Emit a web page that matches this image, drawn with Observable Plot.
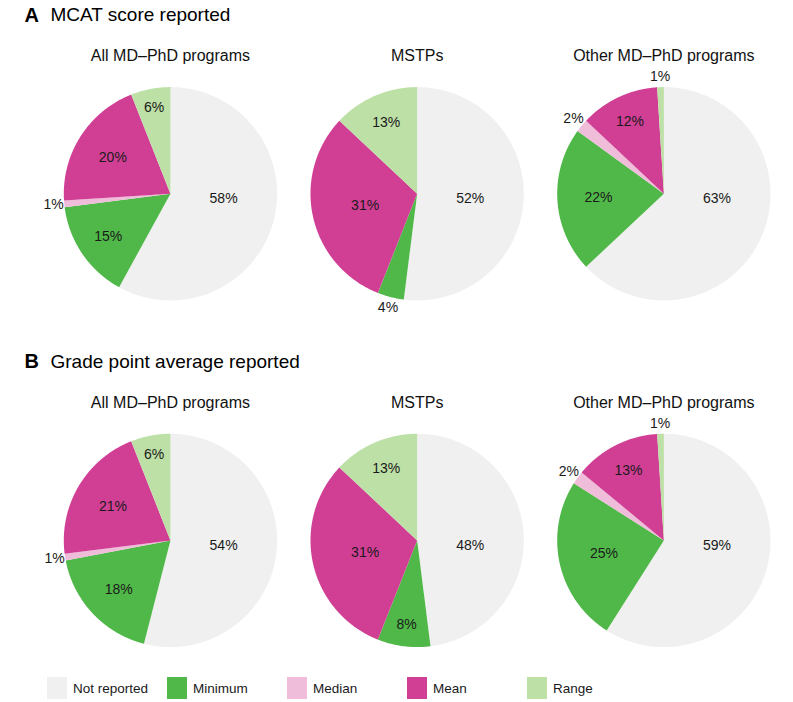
<!DOCTYPE html>
<html><head><meta charset="utf-8">
<script src="https://cdn.jsdelivr.net/npm/d3@7"></script>
<script src="https://cdn.jsdelivr.net/npm/@observablehq/plot@0.6"></script>
<style>
body{margin:0;background:#fff;font-family:"Liberation Sans",Arial,Helvetica,sans-serif;}
#chart svg{display:block;overflow:visible;}
#legend{position:relative;height:37px;width:793px;}
.item{position:absolute;top:12px;height:22px;display:flex;align-items:center;font-size:13.5px;color:#1a1a1a;}
.sw{width:20px;height:22px;margin-right:6px;}
</style></head><body>
<div id="chart"></div>
<div id="legend"></div>
<script>
// ---- data ----
const categories = ["Not reported", "Minimum", "Median", "Mean", "Range"];
const colors = ["#eff0ef", "#50b848", "#efbcd9", "#d13f95", "#bde0a6"];
const panels = ["A", "B"];
const panelTitles = ["MCAT score reported", "Grade point average reported"];
const programs = ["All MD–PhD programs", "MSTPs", "Other MD–PhD programs"];
const mcatAll = [58, 15, 1, 20, 6];
const mcatMSTP = [52, 4, 0, 31, 13];
const mcatOther = [63, 22, 2, 12, 1];
const gpaAll = [54, 18, 1, 21, 6];
const gpaMSTP = [48, 8, 0, 31, 13];
const gpaOther = [59, 25, 2, 13, 1];

const series = {
  A: [mcatAll, mcatMSTP, mcatOther],
  B: [gpaAll, gpaMSTP, gpaOther]
};

// ---- build slice polygons and labels in unit-circle data space ----
const slices = [];
const labels = [];
const facets = [];
for (const panel of panels) {
  series[panel].forEach((vals, gi) => {
    const program = programs[gi];
    facets.push({panel, program});
    const total = d3.sum(vals);
    let cum = 0;
    vals.forEach((v, ci) => {
      if (v <= 0) return;
      const a0 = (cum / total) * 2 * Math.PI;
      cum += v;
      const a1 = (cum / total) * 2 * Math.PI;
      const key = panel + "|" + program + "|" + categories[ci];
      const n = Math.max(2, Math.ceil((a1 - a0) / (Math.PI / 360)));
      slices.push({panel, program, key, category: categories[ci], x: 0, y: 0});
      for (let k = 0; k <= n; ++k) {
        const a = a0 + (a1 - a0) * k / n;
        slices.push({panel, program, key, category: categories[ci], x: Math.sin(a), y: Math.cos(a)});
      }
      slices.push({panel, program, key, category: categories[ci], x: 0, y: 0});
      const f = v / total;
      let a = (a0 + a1) / 2, r;
      if (f < 0.05) r = 1.1;
      else if (f > 0.4) { a = 95 * Math.PI / 180; r = 0.5; }
      else r = Math.max(0.5, 0.9 - 1.3 * f);
      labels.push({panel, program, text: v + "%", x: r * Math.sin(a), y: r * Math.cos(a)});
    });
  });
}
const headers = panels.map((p, i) => ({panel: p, program: programs[0], title: panelTitles[i]}));

const plot = Plot.plot({
  width: 793,
  height: 665,
  marginTop: 86.6,
  marginLeft: 63.3,
  marginRight: 23,
  marginBottom: 18.4,
  facet: {margin: 0},
  x: {domain: [-1, 1], axis: null},
  y: {domain: [-1, 1], axis: null},
  fx: {domain: programs, axis: null, paddingInner: 0.1354, paddingOuter: 0, round: false},
  fy: {domain: panels, axis: null, paddingInner: 0.3847, paddingOuter: 0, round: false},
  color: {domain: categories, range: colors},
  style: {fontFamily: "'Liberation Sans', Arial, Helvetica, sans-serif", overflow: "visible", background: "#fff"},
  marks: [
    Plot.line(slices, {x: "x", y: "y", z: "key", fill: "category", stroke: "none", fx: "program", fy: "panel"}),
    Plot.text(labels, {x: "x", y: "y", text: "text", fx: "program", fy: "panel", fontSize: 14, fill: "#1a1a1a"}),
    Plot.text(facets, {fx: "program", fy: "panel", text: "program", frameAnchor: "top", lineAnchor: "middle", dy: -31, fontSize: 16, fill: "#111"}),
    Plot.text(headers, {fx: "program", fy: "panel", text: "panel", frameAnchor: "top-left", lineAnchor: "middle", textAnchor: "start", dx: -39.3, dy: -72, fontSize: 20, fontWeight: "bold", fill: "#000"}),
    Plot.text(headers, {fx: "program", fy: "panel", text: "title", frameAnchor: "top-left", lineAnchor: "middle", textAnchor: "start", dx: -13.3, dy: -72, fontSize: 19, fill: "#000"})
  ]
});
document.getElementById("chart").append(plot);

// ---- legend from the plot's color scale ----
const cs = plot.scale("color");
const legend = document.getElementById("legend");
cs.domain.forEach((d, i) => {
  const item = document.createElement("div");
  item.className = "item";
  item.style.left = (47 + i * 120) + "px";
  const sw = document.createElement("div");
  sw.className = "sw";
  sw.style.background = cs.range[i];
  const t = document.createElement("span");
  t.textContent = d;
  item.append(sw, t);
  legend.append(item);
});
</script>
</body></html>
